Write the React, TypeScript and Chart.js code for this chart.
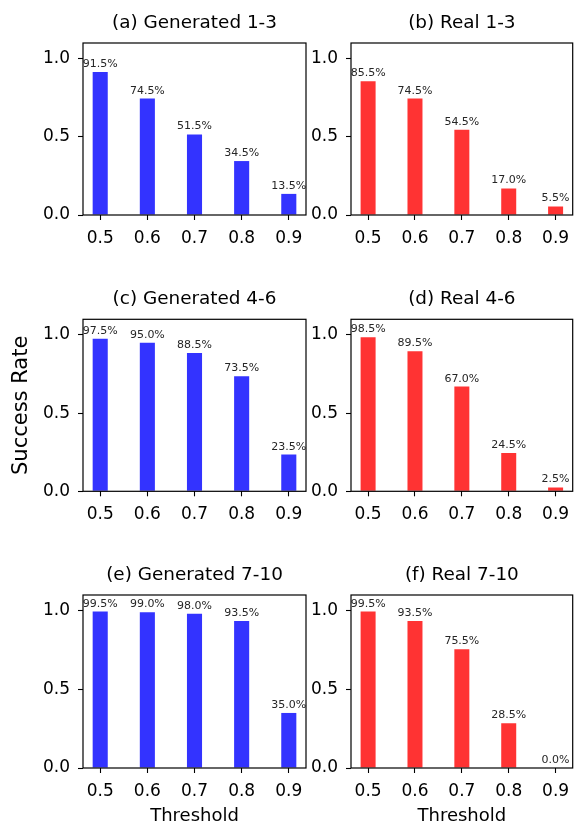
import React, { useEffect, useRef } from "react";
import { Chart, registerables } from "chart.js";

Chart.register(...registerables);

// ---------- data ----------
const thresholds = [0.5, 0.6, 0.7, 0.8, 0.9];
const yTickValues = [0, 0.5, 1.0];
const panelTitles = [
  "(a) Generated 1-3",
  "(b) Real 1-3",
  "(c) Generated 4-6",
  "(d) Real 4-6",
  "(e) Generated 7-10",
  "(f) Real 7-10",
];
const generated13 = [0.915, 0.745, 0.515, 0.345, 0.135];
const real13 = [0.855, 0.745, 0.545, 0.17, 0.055];
const generated46 = [0.975, 0.95, 0.885, 0.735, 0.235];
const real46 = [0.985, 0.895, 0.67, 0.245, 0.025];
const generated710 = [0.995, 0.99, 0.98, 0.935, 0.35];
const real710 = [0.995, 0.935, 0.755, 0.285, 0.0];
const yAxisLabel = "Success Rate";
const xAxisLabel = "Threshold";

const FONT = '"DejaVu Sans", sans-serif';
const BLUE = "rgba(0, 0, 255, 0.8)";
const RED = "rgba(255, 0, 0, 0.8)";

type PanelProps = {
  left: number;
  top: number;
  width: number;
  height: number;
  yAxisW: number;
  padRight: number;
  padTop: number;
  xAxisH: number;
  values: number[];
  color: string;
  title: string;
  showYLabel: boolean;
  showXLabel: boolean;
};

function Panel(p: PanelProps) {
  const ref = useRef<HTMLCanvasElement | null>(null);

  useEffect(() => {
    if (!ref.current) return;

    const titlePlugin = {
      id: "panelTitle",
      afterDraw(chart: any) {
        const { ctx, chartArea } = chart;
        ctx.save();
        ctx.font = `18.4px ${FONT}`;
        ctx.fillStyle = "#000";
        ctx.textAlign = "center";
        ctx.textBaseline = "alphabetic";
        ctx.fillText(p.title, (chartArea.left + chartArea.right) / 2, chartArea.top - 15);
        ctx.restore();
      },
    };

    const valueLabels = {
      id: "valueLabels",
      afterDatasetsDraw(chart: any) {
        const { ctx } = chart;
        const meta = chart.getDatasetMeta(0);
        ctx.save();
        ctx.font = `11px ${FONT}`;
        ctx.fillStyle = "#262626";
        ctx.textAlign = "center";
        ctx.textBaseline = "alphabetic";
        meta.data.forEach((bar: any, i: number) => {
          const v = p.values[i];
          ctx.fillText((v * 100).toFixed(1) + "%", bar.x, bar.y - 5);
        });
        ctx.restore();
      },
    };

    const frame = {
      id: "frame",
      afterDraw(chart: any) {
        const { ctx, chartArea } = chart;
        ctx.save();
        ctx.strokeStyle = "#000";
        ctx.lineWidth = 1.2;
        ctx.strokeRect(
          chartArea.left,
          chartArea.top,
          chartArea.right - chartArea.left,
          chartArea.bottom - chartArea.top
        );
        ctx.restore();
      },
    };

    const chart = new Chart(ref.current, {
      type: "bar",
      data: {
        datasets: [
          {
            data: thresholds.map((x, i) => ({ x, y: p.values[i] })),
            backgroundColor: p.color,
            borderWidth: 0,
            categoryPercentage: 1,
            barPercentage: 0.32,
          },
        ],
      },
      options: {
        animation: false,
        responsive: false,
        layout: { padding: { top: p.padTop, right: p.padRight, left: 0, bottom: 0 } },
        plugins: {
          legend: { display: false },
          tooltip: { enabled: false },
          title: { display: false },
        },
        scales: {
          x: {
            type: "linear",
            bounds: "data",
            min: 0.4635,
            max: 0.9365,
            offset: false,
            afterBuildTicks: (s: any) => {
              s.ticks = thresholds.map((v) => ({ value: v }));
            },
            afterFit: (s: any) => {
              s.height = p.xAxisH;
              s.paddingLeft = 0;
              s.paddingRight = 0;
            },
            ticks: {
              callback: (v: any) => Number(v).toFixed(1),
              font: { family: FONT, size: 17 },
              color: "#000",
              padding: 8,
              maxRotation: 0,
              autoSkip: false,
            },
            grid: {
              display: true,
              drawOnChartArea: false,
              drawTicks: true,
              tickLength: 5,
              tickColor: "#000",
              tickWidth: 1.1,
              offset: false,
            },
            border: { display: false },
            title: {
              display: p.showXLabel,
              text: xAxisLabel,
              color: "#000",
              font: { family: FONT, size: 18, lineHeight: 0.8 },
              padding: { top: 0, bottom: 0.4 },
            },
          },
          y: {
            type: "linear",
            bounds: "data",
            min: 0,
            max: 1.1,
            afterBuildTicks: (s: any) => {
              s.ticks = yTickValues.map((v) => ({ value: v }));
            },
            afterFit: (s: any) => {
              s.width = p.yAxisW;
              s.paddingTop = 0;
              s.paddingBottom = 0;
            },
            ticks: {
              callback: (v: any) => Number(v).toFixed(1),
              font: { family: FONT, size: 17 },
              color: "#000",
              padding: 8,
            },
            grid: {
              display: true,
              drawOnChartArea: false,
              drawTicks: true,
              tickLength: 5,
              tickColor: "#000",
              tickWidth: 1.1,
            },
            border: { display: false },
            title: {
              display: p.showYLabel,
              text: yAxisLabel,
              color: "#000",
              font: { family: FONT, size: 21, lineHeight: 1.2 },
              padding: { top: 9.4, bottom: 0 },
            },
          },
        },
      } as any,
      plugins: [valueLabels, frame, titlePlugin],
    });

    return () => chart.destroy();
  }, []);

  return (
    <canvas
      ref={ref}
      width={p.width}
      height={p.height}
      style={{ position: "absolute", left: p.left, top: p.top, width: p.width, height: p.height }}
    />
  );
}

const seriesList = [generated13, real13, generated46, real46, generated710, real710];
const cols = [
  { left: 0, width: 307, yAxisW: 83, padRight: 1 },
  { left: 307, width: 267, yAxisW: 44, padRight: 1.3 },
];
const rows = [
  { top: 0, height: 276, padTop: 43, xAxisH: 61 },
  { top: 276, height: 276, padTop: 43.3, xAxisH: 60.7 },
  { top: 552, height: 272, padTop: 43, xAxisH: 56 },
];

export default function App() {
  const panels = [];
  for (let r = 0; r < 3; r++) {
    for (let c = 0; c < 2; c++) {
      const i = r * 2 + c;
      panels.push(
        <Panel
          key={i}
          left={cols[c].left}
          top={rows[r].top}
          width={cols[c].width}
          height={rows[r].height}
          yAxisW={cols[c].yAxisW}
          padRight={cols[c].padRight}
          padTop={rows[r].padTop}
          xAxisH={rows[r].xAxisH}
          values={seriesList[i]}
          color={c === 0 ? BLUE : RED}
          title={panelTitles[i]}
          showYLabel={r === 1 && c === 0}
          showXLabel={r === 2}
        />
      );
    }
  }
  return (
    <div style={{ position: "absolute", left: 0, top: 0, width: 574, height: 824, background: "#fff" }}>
      {panels}
    </div>
  );
}
